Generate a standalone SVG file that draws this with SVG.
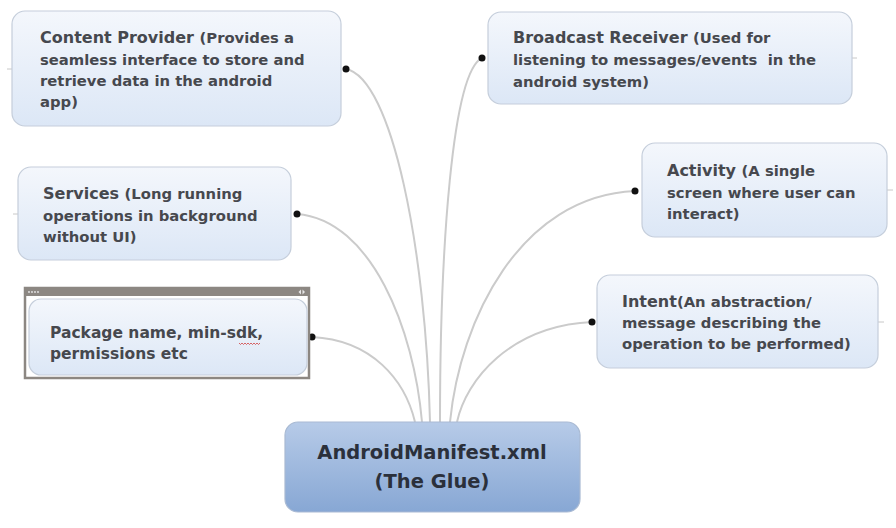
<svg xmlns="http://www.w3.org/2000/svg" width="896" height="528" viewBox="0 0 896 528">
<defs>
<linearGradient id="boxg" x1="0" y1="0" x2="0" y2="1">
<stop offset="0" stop-color="#f4f7fc"/>
<stop offset="1" stop-color="#dce7f6"/>
</linearGradient>
<linearGradient id="maing" x1="0" y1="0" x2="0" y2="1">
<stop offset="0" stop-color="#b7cbe8"/>
<stop offset="1" stop-color="#87a7d4"/>
</linearGradient>
<style>
.box{fill:url(#boxg);stroke:#c5cedb;stroke-width:1.2}
.t{font-family:"DejaVu Sans",Verdana,sans-serif;font-weight:bold;fill:#46484e}
.h{font-size:16px}
.d{font-size:14.8px}
.conn{fill:none;stroke:#cbcbcb;stroke-width:2}
.dot{fill:#111}
.stub{stroke:#c8c8c8;stroke-width:1}
</style>
</defs>
<rect width="896" height="528" fill="#ffffff"/>

<g id="connectors">
<path class="conn" d="M346,69 C392,78 426,250 430,422"/>
<path class="conn" d="M482,58 C452,72 440,250 440,422"/>
<path class="conn" d="M297,214 C372,220 414,330 422,422"/>
<path class="conn" d="M312,337 C372,340 405,380 415,422"/>
<path class="conn" d="M635,191 C520,196 460,320 450,422"/>
<path class="conn" d="M592,322 C510,326 466,380 457,422"/>
<circle class="dot" cx="346" cy="69" r="3.5"/>
<circle class="dot" cx="482" cy="58" r="3.5"/>
<circle class="dot" cx="297" cy="214" r="3.5"/>
<circle class="dot" cx="312" cy="337" r="3.5"/>
<circle class="dot" cx="635" cy="191" r="3.5"/>
<circle class="dot" cx="592" cy="322" r="3.5"/>
<line class="stub" x1="7" y1="69" x2="12" y2="69"/>
<line class="stub" x1="13" y1="214" x2="18" y2="214"/>
<line class="stub" x1="852" y1="58" x2="857" y2="58"/>
<line class="stub" x1="887" y1="190" x2="893" y2="190"/>
<line class="stub" x1="878" y1="322" x2="884" y2="322"/>
</g>

<g id="content-provider">
<rect class="box" x="12" y="11" width="329" height="115" rx="13"/>
<text class="t" x="40" y="43"><tspan class="h">Content Provider </tspan><tspan class="d">(Provides a</tspan></text>
<text class="t d" x="40" y="65">seamless interface to store and</text>
<text class="t d" x="40" y="86">retrieve data in the android</text>
<text class="t d" x="40" y="107">app)</text>
</g>

<g id="broadcast-receiver">
<rect class="box" x="488" y="12" width="364" height="92" rx="13"/>
<text class="t" x="513" y="43"><tspan class="h">Broadcast Receiver </tspan><tspan class="d">(Used for</tspan></text>
<text class="t d" x="513" y="65" xml:space="preserve">listening to messages/events  in the</text>
<text class="t d" x="513" y="87">android system)</text>
</g>

<g id="services">
<rect class="box" x="18" y="167" width="273" height="93" rx="13"/>
<text class="t" x="43" y="199"><tspan class="h">Services </tspan><tspan class="d">(Long running</tspan></text>
<text class="t d" x="43" y="221">operations in background</text>
<text class="t d" x="43" y="242">without UI)</text>
</g>

<g id="activity">
<rect class="box" x="642" y="143" width="245" height="94" rx="13"/>
<text class="t" x="667" y="176"><tspan class="h">Activity </tspan><tspan class="d">(A single</tspan></text>
<text class="t d" x="667" y="198">screen where user can</text>
<text class="t d" x="667" y="219">interact)</text>
</g>

<g id="package">
<rect x="25" y="288" width="284" height="90" fill="#ffffff" stroke="#8c8782" stroke-width="2.5"/>
<rect x="25" y="288" width="284" height="8" fill="#8c8782"/>
<g fill="#e8e8e8">
<circle cx="29" cy="292" r="0.9"/><circle cx="32" cy="292" r="0.9"/><circle cx="35" cy="292" r="0.9"/><circle cx="38" cy="292" r="0.9"/>
<path d="M301,289.5 L298.5,292 L301,294.5 Z"/><path d="M302.5,289.5 L305,292 L302.5,294.5 Z"/>
</g>
<rect class="box" x="29" y="299" width="278" height="76" rx="12"/>
<text class="t" x="50" y="338" style="font-size:15.5px">Package name, min-sdk,</text>
<text class="t" x="50" y="359" style="font-size:15.5px">permissions etc</text>
<path d="M239,343 l1.5,1.5 l1.5,-1.5 l1.5,1.5 l1.5,-1.5 l1.5,1.5 l1.5,-1.5 l1.5,1.5 l1.5,-1.5 l1.5,1.5 l1.5,-1.5 l1.5,1.5 l1.5,-1.5 l1.5,1.5 l1.5,-1.5" fill="none" stroke="#d04040" stroke-width="0.8"/>
</g>

<g id="intent">
<rect class="box" x="597" y="275" width="281" height="93" rx="13"/>
<text class="t" x="622" y="307"><tspan class="h">Intent</tspan><tspan class="d">(An abstraction/</tspan></text>
<text class="t d" x="622" y="328">message describing the</text>
<text class="t d" x="622" y="349">operation to be performed)</text>
</g>

<g id="android-manifest">
<rect x="285" y="422" width="295" height="90" rx="13" fill="url(#maing)" stroke="#a9bad3" stroke-width="1.2"/>
<text class="t" x="432" y="459" text-anchor="middle" style="font-size:19.5px;fill:#2b303b">AndroidManifest.xml</text>
<text class="t" x="432" y="488" text-anchor="middle" style="font-size:19.5px;fill:#2b303b">(The Glue)</text>
</g>
</svg>
